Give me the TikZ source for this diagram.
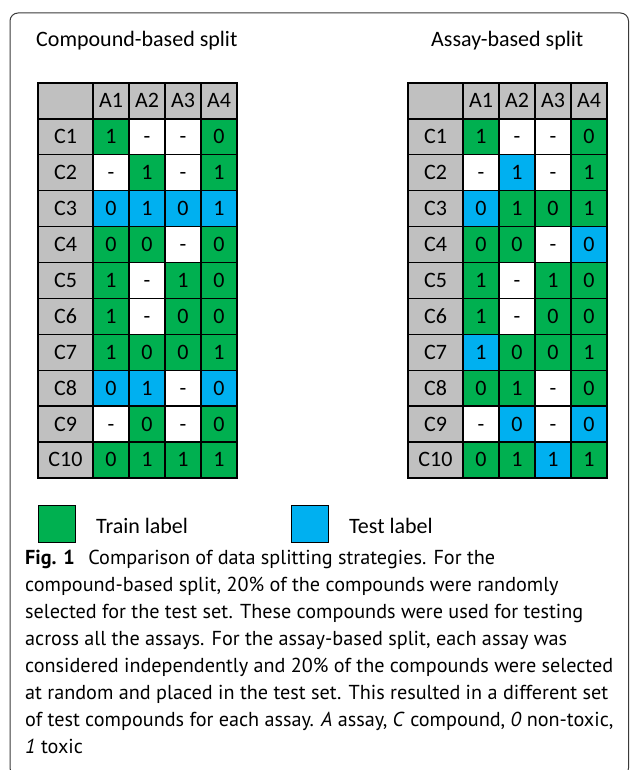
\documentclass[tikz,border=0pt]{standalone}
\usepackage{fontspec}
\setmainfont{Carlito}
\newfontfamily\capfont{PT Sans}
\newlength\capw
\definecolor{cG}{HTML}{00B050}
\definecolor{cB}{HTML}{00B0F0}
\definecolor{cW}{HTML}{FFFFFF}
\definecolor{cH}{HTML}{C0C0C0}
\definecolor{framec}{HTML}{3A3A3A}
\tikzset{
  cell/.style={draw=black, line width=1.3pt, minimum width=36pt, minimum height=35.9pt,
    inner sep=0pt, text height=14pt, text depth=0pt, font=\fontsize{22}{22}\selectfont},
  figtext/.style={anchor=base west, inner sep=0pt, font=\fontsize{22}{22}\selectfont},
  legsq/.style={draw=black, line width=1pt, minimum width=37pt, minimum height=37pt, inner sep=0pt},
  capt/.style={anchor=base west, inner sep=0pt, font=\capfont\fontsize{\capsize}{\capsize}\selectfont}
}
\newcommand\drawtable[3]{%
  \node[cell, fill=cH, minimum width=55pt] (#1-0-0) at (#2+27.5, 83+17.95) {};
  \foreach \j in {1,...,4}
    \node[cell, fill=cH] (#1-0-\j) at (#2+55+36*\j-18, 83+17.95) {A\j};
  \foreach \r [count=\i] in {#3} {
    \node[cell, fill=cH, minimum width=55pt] (#1-\i-0) at (#2+27.5, 83+35.9*\i+17.95) {C\i};
    \foreach \v/\c [count=\j] in \r
      \node[cell, fill=c\c] (#1-\i-\j) at (#2+55+36*\j-18, 83+35.9*\i+17.95) {\v};
  }%
}
\begin{document}
\settowidth\capw{\capfont\fontsize{20}{20}\selectfont considered independently and 20\% of the compounds were selected}%
\pgfmathsetmacro\capsize{20*588/\capw}%
\begin{tikzpicture}[x=1pt,y=-1pt]
\useasboundingbox (0,0) rectangle (629,770);
\clip (0,0) rectangle (629,770);
\draw[framec, line width=1pt, rounded corners=8pt] (10,13) rectangle (628.5,776);

\node[figtext] (t1) at (36,47) {Compound-based split};
\node[figtext] (t2) at (431,47) {Assay-based split};

\drawtable{L}{38}{{1/G,-/W,-/W,0/G},{-/W,1/G,-/W,1/G},{0/B,1/B,0/B,1/B},{0/G,0/G,-/W,0/G},{1/G,-/W,1/G,0/G},{1/G,-/W,0/G,0/G},{1/G,0/G,0/G,1/G},{0/B,1/B,-/W,0/B},{-/W,0/G,-/W,0/G},{0/G,1/G,1/G,1/G}}
\drawtable{R}{408}{{1/G,-/W,-/W,0/G},{-/W,1/B,-/W,1/G},{0/B,1/G,0/G,1/G},{0/G,0/G,-/W,0/B},{1/G,-/W,1/G,0/G},{1/G,-/W,0/G,0/G},{1/B,0/G,0/G,1/G},{0/G,1/G,-/W,0/G},{-/W,0/B,-/W,0/B},{0/G,1/G,1/B,1/G}}

\node[legsq, fill=cG] (gsq) at (57,524) {};
\node[figtext] (gtx) at (96,533) {Train label};
\node[legsq, fill=cB] (bsq) at (310,524) {};
\node[figtext] (btx) at (349,533) {Test label};

\node[capt] (c1) at (25,564) {{\bfseries Fig. 1}\hspace{0.4em} Comparison of data splitting strategies. For the};
\node[capt] (c2) at (25,591.1) {compound-based split, 20\% of the compounds were randomly};
\node[capt] (c3) at (25,618.2) {selected for the test set. These compounds were used for testing};
\node[capt] (c4) at (25,645.3) {across all the assays. For the assay-based split, each assay was};
\node[capt] (c5) at (25,672.4) {considered independently and 20\% of the compounds were selected};
\node[capt] (c6) at (25,699.5) {at random and placed in the test set. This resulted in a different set};
\node[capt] (c7) at (25,726.6) {of test compounds for each assay. \textit{A} assay, \textit{C} compound, \textit{0} non-toxic,};
\node[capt] (c8) at (25,753.7) {\textit{1} toxic};
\end{tikzpicture}
\end{document}
